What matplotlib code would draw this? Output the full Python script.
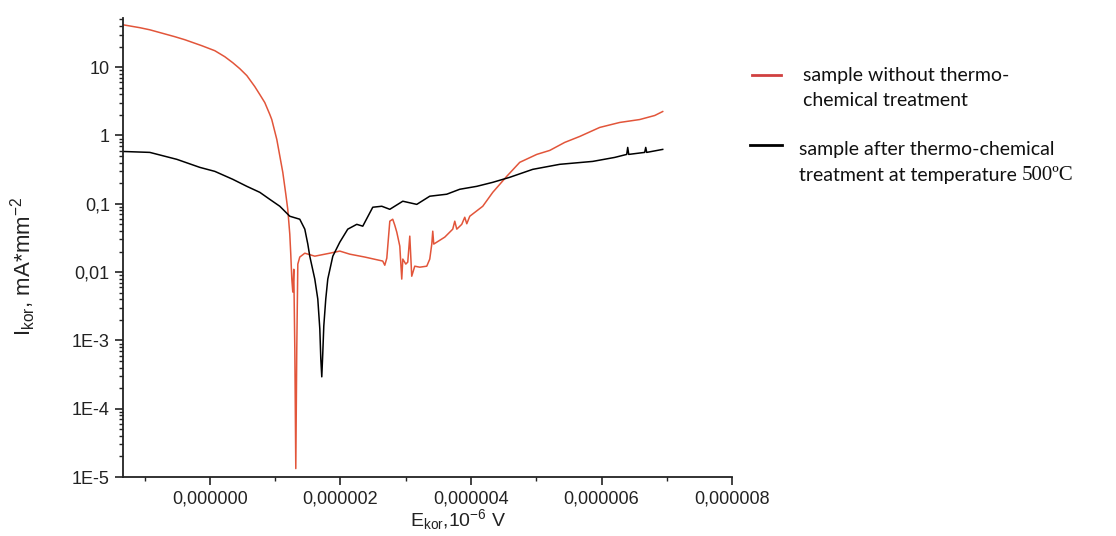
import numpy as np
import matplotlib
matplotlib.use('Agg')
import matplotlib.pyplot as plt
from matplotlib.lines import Line2D
from matplotlib.ticker import LogLocator, NullFormatter, MultipleLocator

plt.rcParams['font.family'] = ['Liberation Sans', 'DejaVu Sans']
plt.rcParams['mathtext.fontset'] = 'custom'
plt.rcParams['mathtext.rm'] = 'Liberation Sans'
plt.rcParams['mathtext.it'] = 'Liberation Sans:italic'

# sample without thermo-chemical treatment (E in 1e-6 V, I in mA/mm2)
e_raw = [-1.332, -1.072, -0.919, -0.536, -0.383, -0.123, 0.077, 0.230, 0.352, 0.459,
         0.567, 0.689, 0.766, 0.842, 0.919, 0.949, 1.026, 1.118, 1.164, 1.194,
         1.225, 1.240, 1.256, 1.271, 1.286, 1.302, 1.317, 1.332,
         1.348, 1.378, 1.455, 1.608, 1.838, 1.991, 2.144, 2.374, 2.649, 2.680,
         2.711, 2.757, 2.802, 2.833, 2.864, 2.910, 2.940, 2.956, 3.002, 3.032,
         3.063, 3.093, 3.139, 3.216, 3.323, 3.369, 3.400, 3.415, 3.430, 3.476,
         3.599, 3.721, 3.752, 3.783, 3.859, 3.905, 3.936, 3.982, 4.181, 4.334,
         4.548, 4.747, 5.008, 5.207, 5.436, 5.666, 5.972, 6.279, 6.585, 6.815, 6.937]
i_raw = [41.7, 37.8, 35.2, 27.9, 25.2, 20.6, 17.4, 14.2, 11.6, 9.5,
         7.52, 5.19, 3.97, 3.03, 2.03, 1.71, 0.875, 0.288, 0.138, 0.083,
         0.0359, 0.0183, 0.0079, 0.0051, 0.011, 7.5e-4, 1.33e-5, 7.5e-4,
         0.0131, 0.0166, 0.0189, 0.0171, 0.0189, 0.0203, 0.0183, 0.0166, 0.0145, 0.0126,
         0.016, 0.0556, 0.0594, 0.0486, 0.0384, 0.024, 0.0079, 0.0155, 0.0131, 0.014,
         0.0336, 0.0087, 0.0122, 0.0118, 0.0122, 0.0155, 0.0257, 0.0397, 0.0257, 0.0274,
         0.0325, 0.0425, 0.0556, 0.0425, 0.050, 0.0635, 0.051, 0.0657, 0.092, 0.147,
         0.252, 0.404, 0.528, 0.604, 0.791, 0.967, 1.31, 1.55, 1.71, 1.96, 2.24]

# sample after thermo-chemical treatment at 500 C
e_tct = [-1.332, -0.919, -0.505, -0.153, 0.077, 0.352, 0.567, 0.766, 0.919, 1.072,
         1.225, 1.378, 1.455, 1.501, 1.531, 1.608, 1.654, 1.685, 1.700, 1.715,
         1.730, 1.746, 1.776, 1.807, 1.884, 1.991, 2.113, 2.251, 2.343, 2.496,
         2.634, 2.757, 2.956, 3.170, 3.369, 3.629, 3.828, 4.089, 4.334, 4.594,
         4.946, 5.360, 5.865, 6.202, 6.386, 6.401, 6.417, 6.661, 6.677, 6.692, 6.937]
i_tct = [0.583, 0.565, 0.447, 0.341, 0.298, 0.228, 0.18, 0.147, 0.116, 0.092,
         0.0657, 0.0594, 0.0425, 0.0257, 0.0171, 0.0079, 0.00403, 0.00147, 5.4e-4, 2.93e-4,
         6.4e-4, 0.00163, 0.00403, 0.0079, 0.0171, 0.0274, 0.0425, 0.050, 0.047, 0.089,
         0.092, 0.083, 0.109, 0.098, 0.129, 0.138, 0.163, 0.18, 0.206, 0.244,
         0.319, 0.378, 0.417, 0.477, 0.528, 0.668, 0.528, 0.565, 0.668, 0.565, 0.625]

x_ticks = [0, 2e-6, 4e-6, 6e-6, 8e-6]
x_labels = ['0,000000', '0,000002', '0,000004', '0,000006', '0,000008']
y_ticks = [10, 1, 0.1, 0.01, 1e-3, 1e-4, 1e-5]
y_labels = ['10', '1', '0,1', '0,01', '1E-3', '1E-4', '1E-5']

red = '#e2553a'

fig = plt.figure(figsize=(11.16, 5.36), dpi=100)
ax = fig.add_axes([0.1102, 0.110, 0.5458, 0.856])

ax.plot(np.array(e_raw) * 1e-6, i_raw, color=red, lw=1.1)
ax.plot(np.array(e_tct) * 1e-6, i_tct, color='black', lw=1.1)

ax.set_yscale('log')
ax.set_ylim(1e-5, 52)
ax.set_xlim(-1.33e-6, 8e-6)
ax.set_xticks(x_ticks)
ax.set_xticklabels(x_labels)
ax.xaxis.set_minor_locator(MultipleLocator(1e-6))
ax.set_yticks(y_ticks)
ax.set_yticklabels(y_labels)
ax.yaxis.set_minor_locator(LogLocator(base=10, subs=np.arange(2, 10)))
ax.yaxis.set_minor_formatter(NullFormatter())

for s in ['top', 'right']:
    ax.spines[s].set_visible(False)
for s in ['left', 'bottom']:
    ax.spines[s].set_linewidth(1.3)
    ax.spines[s].set_color('#222222')
ax.tick_params(which='major', length=6, width=1.2, labelsize=13, colors='#222222')
ax.tick_params(which='minor', length=3, width=1.0, colors='#222222')

ax.set_xlabel(r'E$_{\rm kor}$,10$^{-6}$ V', fontsize=14, color='#222222')
ax.xaxis.set_label_coords(0.55, -0.065)
ax.set_ylabel(r'I$_{\rm kor}$, mA*mm$^{-2}$', fontsize=16, color='#222222')
ax.yaxis.set_label_coords(-0.14, 0.46)

# legend, drawn by hand (pixel positions from top-left)
W, H = 1116, 536
def fx(px):
    return px / W
def fy(py):
    return 1 - py / H

fig.add_artist(Line2D([fx(752), fx(781)], [fy(75), fy(75)], color='#d04040', lw=2))
fig.add_artist(Line2D([fx(750), fx(782)], [fy(145), fy(145)], color='black', lw=2))
lfont = dict(fontsize=14, family=['Lato', 'DejaVu Sans'], color='#111111', va='center')
fig.text(fx(803), fy(75), 'sample without thermo-', **lfont)
fig.text(fx(803), fy(101), 'chemical treatment', **lfont)
fig.text(fx(799), fy(149), 'sample after thermo-chemical', **lfont)
t = fig.text(fx(799), fy(175), 'treatment at temperature ', **lfont)
fig.canvas.draw()
bb = t.get_window_extent()
fig.text(bb.x1 / W, fy(175), '500ºC', fontsize=15,
         family=['Liberation Serif', 'DejaVu Serif'], color='#111111', va='center')

fig.savefig('out.png', dpi=100)
